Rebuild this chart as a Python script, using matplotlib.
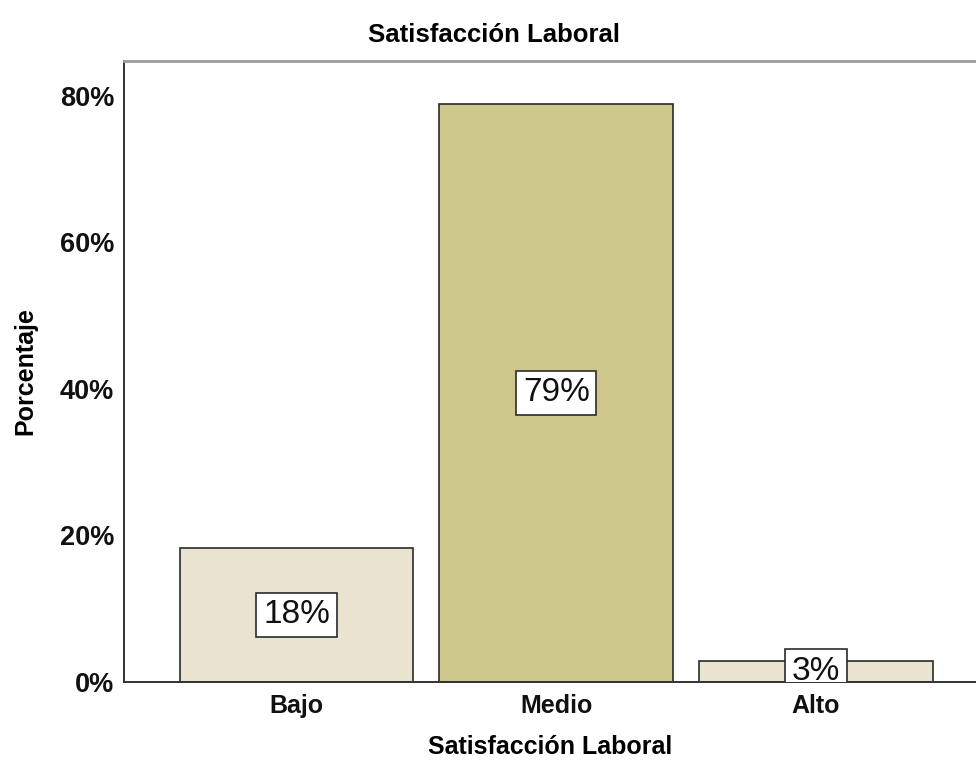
import matplotlib.pyplot as plt

plt.rcParams['font.family'] = ['Liberation Sans', 'DejaVu Sans']

categories = ['Bajo', 'Medio', 'Alto']
percentages = [18.3, 78.9, 2.8]
labels = ['18%', '79%', '3%']
colors = ['#e9e3cf', '#cec88c', '#e9e3cf']

fig = plt.figure(figsize=(9.76, 7.66), dpi=100)
ax = fig.add_axes([0.127, 0.11, 0.873, 0.811])

x = range(len(categories))
bars = ax.bar(x, percentages, width=0.9, color=colors, edgecolor='#2b2b2b', linewidth=1.2)

# value labels in white boxes at the middle of each bar
for b, lab in zip(bars, labels):
    ax.text(b.get_x() + b.get_width() / 2, b.get_height() / 2, lab,
            ha='center', va='center', fontsize=24, color='#111111',
            bbox=dict(boxstyle='square,pad=0.2', facecolor='white',
                      edgecolor='#2b2b2b', linewidth=1.2),
            clip_on=True)

ax.set_xlim(-0.664, 2.616)
ax.set_ylim(0, 84.8)
ax.set_xticks(list(x))
ax.set_xticklabels(categories, fontsize=18, fontweight='bold')
ax.set_yticks([0, 20, 40, 60, 80])
ax.set_yticklabels(['0%', '20%', '40%', '60%', '80%'], fontsize=19.5, fontweight='bold')
ax.tick_params(axis='both', length=0, colors='#111111')
ax.tick_params(axis='x', pad=9)
ax.tick_params(axis='y', pad=7)

ax.set_xlabel('Satisfacción Laboral', fontsize=18, fontweight='bold', labelpad=12)
ax.set_ylabel('Porcentaje', fontsize=18, fontweight='bold', labelpad=16)
fig.text(494 / 976, 1 - 35 / 766, 'Satisfacción Laboral', ha='center', va='center',
         fontsize=18.5, fontweight='bold')

ax.spines['right'].set_visible(False)
ax.spines['top'].set_color('#9a9a9a')
ax.spines['top'].set_linewidth(2)
ax.spines['left'].set_color('#333333')
ax.spines['left'].set_linewidth(1.4)
ax.spines['bottom'].set_color('#333333')
ax.spines['bottom'].set_linewidth(1.4)

fig.savefig('out.png', dpi=100)
